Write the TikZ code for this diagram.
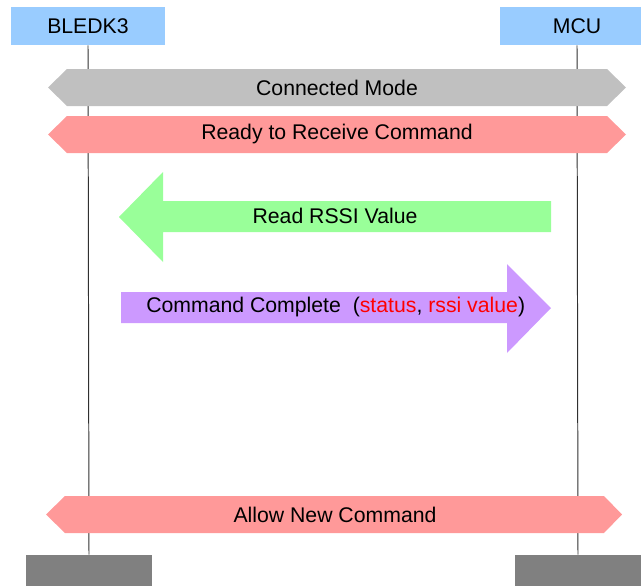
\documentclass[tikz,border=0pt]{standalone}
\usepackage{fontspec}
\setmainfont{Liberation Sans}
\usepackage{tikz}
\definecolor{headblue}{HTML}{99CCFF}
\definecolor{footgray}{HTML}{808080}
\definecolor{modegray}{HTML}{C0C0C0}
\definecolor{statepink}{HTML}{FF9999}
\definecolor{reqgreen}{HTML}{99FF99}
\definecolor{evtpurple}{HTML}{CC99FF}
\definecolor{argred}{HTML}{FF0000}
\definecolor{life}{HTML}{303030}
\tikzset{
  head/.style={fill=headblue, draw=none, minimum width=3.85cm, minimum height=0.95cm, inner sep=0pt},
  foot/.style={fill=footgray, draw=none, minimum width=3.15cm, minimum height=0.8cm, inner sep=0pt},
  lifeline/.style={draw=life, line width=0.7pt},
  band/.style={fill=#1, draw=none},
  msg/.style={fill=#1, draw=none},
  lab/.style={text=black, inner sep=0pt}
}

\begin{document}
\begin{tikzpicture}[x=0.025cm, y=-0.025cm, font=\fontsize{15.1}{18}\selectfont]
  \useasboundingbox (0,0) rectangle (641,586);

  % participants
  \node[head] (bledk) at (88,26) {BLEDK3};
  \node[head] (mcu) at (577,26) {MCU};
  \node[foot] (bledkfoot) at (89,571) {};
  \node[foot] (mcufoot) at (578,571) {};

  \draw[lifeline] (bledk.south) -- (bledkfoot.north);
  \draw[lifeline] (mcu.south) -- (mcufoot.north);

  % state bands
  \fill[band=modegray] (48,87.5) -- (67,69) -- (607,69) -- (626,87.5) -- (607,106) -- (67,106) -- cycle;
  \node[lab] (connected) at (337,87.5) {Connected Mode};

  \fill[band=statepink] (48,134.5) -- (67,116) -- (607,116) -- (626,134.5) -- (607,153) -- (67,153) -- cycle;
  \node[lab] (ready) at (337,134.5) {Ready to Receive Command};

  \fill[band=statepink] (46,514.5) -- (65,496) -- (604,496) -- (622,514.5) -- (604,533) -- (65,533) -- cycle;
  \node[lab] (allow) at (335,514.5) {Allow New Command};

  % messages
  \fill[msg=reqgreen] (119,217) -- (163,172) -- (163,201) -- (551,201) -- (551,232) -- (163,232) -- (163,262) -- cycle;
  \node[lab] (readrssi) at (335,216) {Read RSSI Value};

  \fill[msg=evtpurple] (121,292) -- (507,292) -- (507,264) -- (551,308) -- (507,353) -- (507,323) -- (121,323) -- cycle;
  \node[lab, anchor=west] (cmdcomplete) at (146,307.5)
    {Command Complete~ (\textcolor{argred}{status}, \textcolor{argred}{rssi value})};
\end{tikzpicture}
\end{document}
